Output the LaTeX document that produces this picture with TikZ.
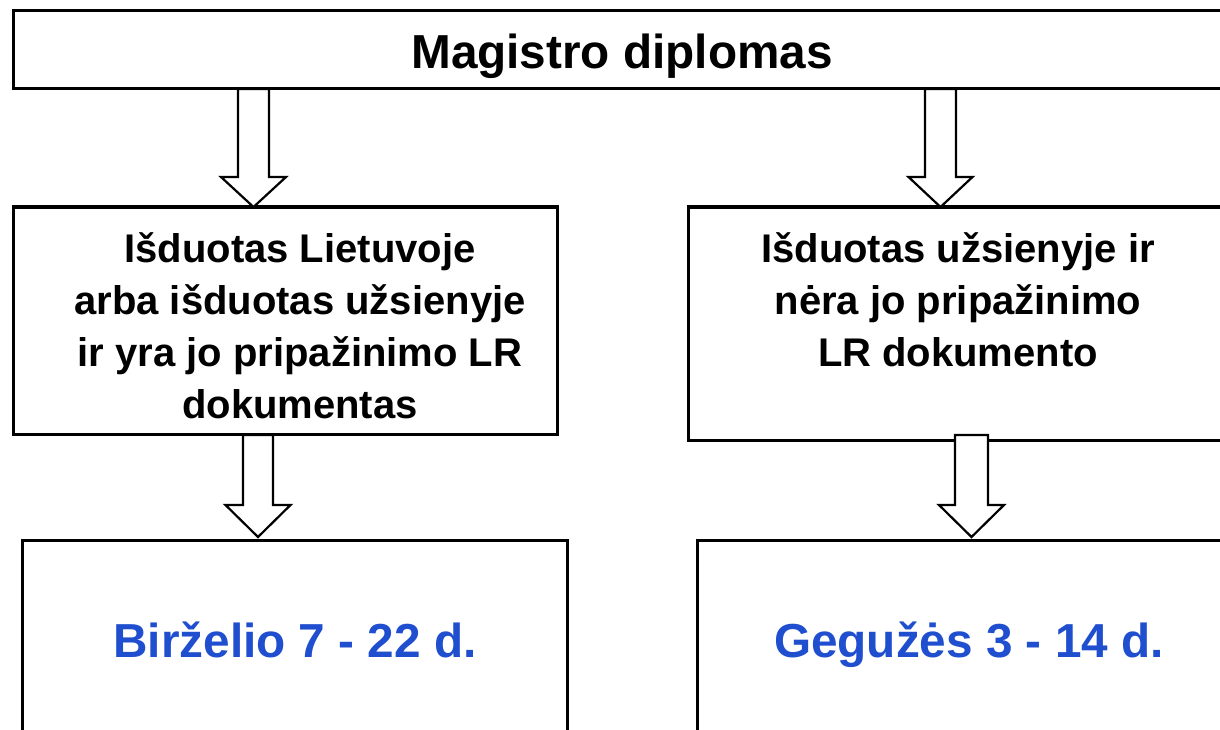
\documentclass[tikz,border=0pt]{standalone}
\usepackage{fontspec}
\setmainfont{Liberation Sans}
\definecolor{dateblue}{HTML}{1F4ECF}
\tikzset{
  boxline/.style={draw=black, line width=3pt, fill=white},
  blockarrow/.style={draw=black, line width=2.2pt, fill=white, line join=miter},
  titletext/.style={font=\fontsize{47.7}{57}\selectfont\bfseries, inner sep=0pt, anchor=base},
  midtext/.style={font=\fontsize{40}{52}\selectfont\bfseries, align=center, inner sep=0pt, anchor=base},
  datetext/.style={font=\fontsize{47.7}{57}\selectfont\bfseries, text=dateblue, inner sep=0pt, anchor=base}
}
% #1 centre x, #2 top y, #3 head start y, #4 tip y, #5 half shaft, #6 half head, #7 name
\newcommand{\myblockarrow}[7]{%
  \draw[blockarrow] (#1-#5,#2) coordinate (#7top) -- (#1+#5,#2) -- (#1+#5,#3) -- (#1+#6,#3)
    -- (#1,#4) coordinate (#7tip) -- (#1-#6,#3) -- (#1-#5,#3) -- cycle;}
\begin{document}
\begin{tikzpicture}[x=1pt,y=-1pt]
\useasboundingbox (0,0) rectangle (1220,730);
\clip (0,0) rectangle (1220,730);
\fill[white] (0,0) rectangle (1220,730);
% boxes
\draw[boxline] (13,11) rectangle (1240,89);
\draw[boxline] (13,207) rectangle (557,434);
\draw[boxline] (688,207) rectangle (1240,440);
\draw[boxline] (22,540) rectangle (567,760);
\draw[boxline] (697,540) rectangle (1240,760);
% texts
\node[titletext] (title) at (622,69) {Magistro diplomas};
\node[midtext] (lt) at (300,418) {Išduotas Lietuvoje\\arba išduotas užsienyje\\ir yra jo pripažinimo LR\\dokumentas};
\node[midtext] (ut) at (958,366) {Išduotas užsienyje ir\\nėra jo pripažinimo\\LR dokumento};
\node[datetext] (bd) at (295,657) {Birželio 7 - 22 d.};
\node[datetext] (gd) at (969,657) {Gegužės 3 - 14 d.};
% block arrows
\myblockarrow{253.5}{89}{177}{207}{15.5}{32.5}{aA}
\myblockarrow{940.5}{89}{177}{207}{15.5}{32}{aB}
\myblockarrow{258}{435}{505}{537}{15}{32.5}{aC}
\myblockarrow{971.5}{435}{505}{537}{16.5}{32.5}{aD}
\end{tikzpicture}
\end{document}
